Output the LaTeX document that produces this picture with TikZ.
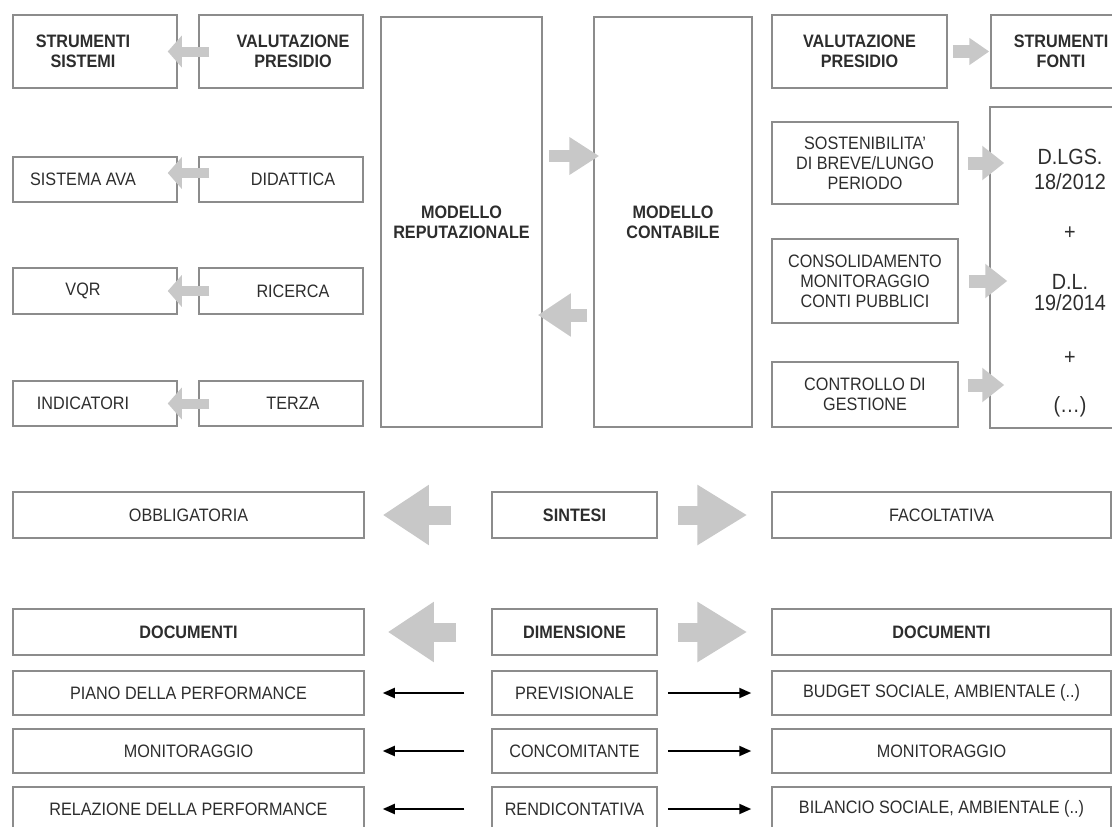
\documentclass[tikz,border=0pt]{standalone}
\usepackage{fontspec}
\setmainfont{Liberation Sans}[FakeStretch=0.9]
\usetikzlibrary{arrows.meta}
\definecolor{boxgray}{RGB}{140,140,140}
\definecolor{arrowgray}{RGB}{200,200,200}
\definecolor{txtgray}{RGB}{45,45,45}
\newcommand{\lefttext}[1]{\makebox[164pt][l]{\parbox{140pt}{\centering #1}}}
\newcommand{\righttext}[1]{\makebox[164pt][r]{\parbox{140pt}{\centering #1}}}

\begin{document}
\begin{tikzpicture}[x=1pt, y=-1pt,
    box/.style={draw=boxgray, line width=1.5pt, text=txtgray, inner sep=0pt, align=center, font=\fontsize{18}{20}\selectfont},
    hd/.style={box, font=\fontsize{18}{20}\selectfont\bfseries},
    fat/.style n args={3}{draw=arrowgray, line width=#1, -{Triangle[length=#2,width=#3]}},
    thinarrow/.style={line width=2pt, -{Triangle[length=12pt,width=10pt]}}]
    \useasboundingbox (0,0) rectangle (1112,827);
    \clip (0,0) rectangle (1112,827);

    % sinistra: strumenti e presidi
    \node[hd, minimum width=164pt, minimum height=73pt] (strsis) at (95,51.5) {\lefttext{STRUMENTI\\SISTEMI}};
    \node[hd, minimum width=164pt, minimum height=73pt] (valsx) at (281,51.5) {\righttext{VALUTAZIONE\\PRESIDIO}};
    \node[box, minimum width=164pt, minimum height=45pt] (ava) at (95,179.5) {\lefttext{SISTEMA AVA}};
    \node[box, minimum width=164pt, minimum height=45pt] (did) at (281,179.5) {\righttext{DIDATTICA}};
    \node[box, minimum width=164pt, minimum height=46pt] (vqr) at (95,291) {\lefttext{VQR}};
    \node[box, minimum width=164pt, minimum height=46pt] (ric) at (281,291) {\righttext{RICERCA}};
    \node[box, minimum width=164pt, minimum height=45pt] (ind) at (95,403.5) {\lefttext{INDICATORI}};
    \node[box, minimum width=164pt, minimum height=45pt] (ter) at (281,403.5) {\righttext{TERZA}};

    \draw[fat={10pt}{14pt}{31pt}, shorten <=-11pt, shorten >=-10pt] (valsx.west) -- (strsis.east);
    \draw[fat={10pt}{14pt}{31pt}, shorten <=-11pt, shorten >=-10pt] ([yshift=6.5pt]did.west) -- ([yshift=6.5pt]ava.east);
    \draw[fat={10pt}{14pt}{31pt}, shorten <=-11pt, shorten >=-10pt] (ric.west) -- (vqr.east);
    \draw[fat={10pt}{14pt}{31pt}, shorten <=-11pt, shorten >=-10pt] (ter.west) -- (ind.east);

    % modelli
    \node[hd, minimum width=161pt, minimum height=410pt] (mrep) at (461.5,222) {MODELLO\\REPUTAZIONALE};
    \node[hd, minimum width=158pt, minimum height=410pt] (mcon) at (673,222) {MODELLO\\CONTABILE};
    \draw[fat={12pt}{30pt}{36pt}, shorten <=6pt, shorten >=-6pt] ([yshift=66pt]mrep.east) -- ([yshift=66pt]mcon.west);
    \draw[fat={13pt}{33pt}{41pt}, shorten <=6pt, shorten >=-5pt] ([yshift=-93pt]mcon.west) -- ([yshift=-93pt]mrep.east);

    % destra: presidi e fonti
    \node[hd, minimum width=175pt, minimum height=73pt] (valdx) at (859.5,51.5) {VALUTAZIONE\\PRESIDIO};
    \node[hd, minimum width=140pt, minimum height=73pt] (strfon) at (1061,51.5) {STRUMENTI\\FONTI};
    \node[box, minimum width=186pt, minimum height=82pt] (sost) at (865,163) {SOSTENIBILITA'\\DI BREVE/LUNGO\\PERIODO};
    \node[box, minimum width=186pt, minimum height=84pt] (cons) at (865,281) {CONSOLIDAMENTO\\MONITORAGGIO\\CONTI PUBBLICI};
    \node[box, minimum width=186pt, minimum height=65pt] (ctrl) at (865,394.5) {CONTROLLO DI\\GESTIONE};
    \node[box, minimum width=160pt, minimum height=321pt] (fonti) at (1070,267.5) {};
    \node[text=txtgray, inner sep=0pt, align=center, anchor=north, font=\fontsize{22}{23}\selectfont] (leggi) at (1070,149)
        {D.LGS.\\[2pt]18/2012\\[27pt]+\\[27pt]D.L.\\[-2pt]19/2014\\[31pt]+\\[25pt](\dots)};
    \coordinate (ctrlout) at ([yshift=9.5pt]ctrl.east);

    \draw[fat={13pt}{20pt}{26pt}, shorten <=5pt, shorten >=1pt] (valdx.east) -- (strfon.west);
    \draw[fat={13pt}{22pt}{33pt}, shorten <=9pt, shorten >=-15pt] (sost.east) -- (sost.east -| fonti.west);
    \draw[fat={13pt}{22pt}{33pt}, shorten <=10pt, shorten >=-18pt] (cons.east) -- (cons.east -| fonti.west);
    \draw[fat={13pt}{22pt}{33pt}, shorten <=9pt, shorten >=-15pt] (ctrlout) -- (ctrlout -| fonti.west);

    % sintesi
    \node[box, minimum width=351pt, minimum height=46pt] (obb) at (188.5,515) {OBBLIGATORIA};
    \node[hd, minimum width=165pt, minimum height=46pt] (sin) at (574.5,515) {SINTESI};
    \node[box, minimum width=339pt, minimum height=46pt] (fac) at (941.5,515) {FACOLTATIVA};
    \draw[fat={19pt}{46pt}{57pt}, shorten <=40pt, shorten >=18pt] (sin.west) -- (obb.east);
    \draw[fat={19pt}{50pt}{57pt}, shorten <=20pt, shorten >=24pt] (sin.east) -- (fac.west);

    % dimensione e documenti
    \node[hd, minimum width=351pt, minimum height=46pt] (docsx) at (188.5,632) {DOCUMENTI};
    \node[hd, minimum width=165pt, minimum height=46pt] (dim) at (574.5,632) {DIMENSIONE};
    \node[hd, minimum width=339pt, minimum height=46pt] (docdx) at (941.5,632) {DOCUMENTI};
    \draw[fat={19pt}{46pt}{57pt}, shorten <=35pt, shorten >=23pt] (dim.west) -- (docsx.east);
    \draw[fat={19pt}{50pt}{57pt}, shorten <=20pt, shorten >=24pt] (dim.east) -- (docdx.west);

    \node[box, minimum width=351pt, minimum height=44pt] (piano) at (188.5,693) {PIANO DELLA PERFORMANCE};
    \node[box, minimum width=165pt, minimum height=44pt] (prev) at (574.5,693) {PREVISIONALE};
    \node[box, minimum width=339pt, minimum height=44pt] (budget) at (941.5,693) {BUDGET SOCIALE, AMBIENTALE (..)};
    \node[box, minimum width=351pt, minimum height=44pt] (monsx) at (188.5,751) {MONITORAGGIO};
    \node[box, minimum width=165pt, minimum height=44pt] (conc) at (574.5,751) {CONCOMITANTE};
    \node[box, minimum width=339pt, minimum height=44pt] (mondx) at (941.5,751) {MONITORAGGIO};
    \node[box, minimum width=351pt, minimum height=44pt] (rel) at (188.5,809) {RELAZIONE DELLA PERFORMANCE};
    \node[box, minimum width=165pt, minimum height=44pt] (rend) at (574.5,809) {RENDICONTATIVA};
    \node[box, minimum width=339pt, minimum height=44pt] (bil) at (941.5,809) {BILANCIO SOCIALE, AMBIENTALE (..)};

    \draw[thinarrow, shorten <=27pt, shorten >=18pt] (prev.west) -- (piano.east);
    \draw[thinarrow, shorten <=10pt, shorten >=20pt] (prev.east) -- (budget.west);
    \draw[thinarrow, shorten <=27pt, shorten >=18pt] (conc.west) -- (monsx.east);
    \draw[thinarrow, shorten <=10pt, shorten >=20pt] (conc.east) -- (mondx.west);
    \draw[thinarrow, shorten <=27pt, shorten >=18pt] (rend.west) -- (rel.east);
    \draw[thinarrow, shorten <=10pt, shorten >=20pt] (rend.east) -- (bil.west);
\end{tikzpicture}
\end{document}
